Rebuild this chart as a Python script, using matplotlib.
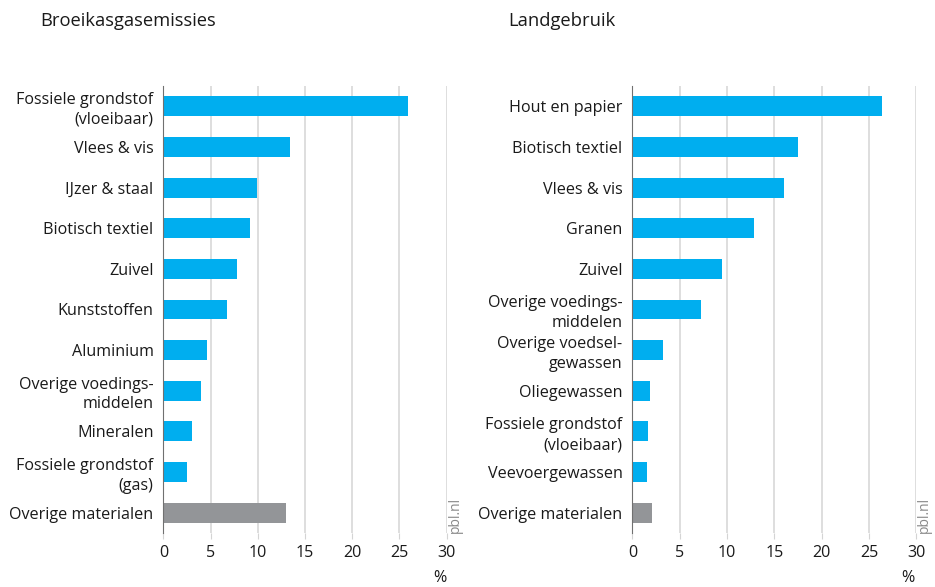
import matplotlib.pyplot as plt

plt.rcParams['font.family'] = ['Open Sans', 'DejaVu Sans']

# Broeikasgasemissies (%)
ghg_labels = ["Fossiele grondstof\n(vloeibaar)", "Vlees & vis", "IJzer & staal",
              "Biotisch textiel", "Zuivel", "Kunststoffen", "Aluminium",
              "Overige voedings-\nmiddelen", "Mineralen", "Fossiele grondstof\n(gas)",
              "Overige materialen"]
ghg_values = [25.9, 13.4, 9.95, 9.2, 7.8, 6.7, 4.6, 4.0, 3.0, 2.55, 13.0]

# Landgebruik (%)
land_labels = ["Hout en papier", "Biotisch textiel", "Vlees & vis", "Granen", "Zuivel",
               "Overige voedings-\nmiddelen", "Overige voedsel-\ngewassen", "Oliegewassen",
               "Fossiele grondstof\n(vloeibaar)", "Veevoergewassen", "Overige materialen"]
land_values = [26.4, 17.5, 16.0, 12.85, 9.5, 7.25, 3.2, 1.9, 1.65, 1.6, 2.1]

blue = "#00aeef"
grey = "#939598"
grid_col = "#d4d4d4"
txt = "#1a1a1a"


def draw_panel(ax, labels, values):
    n = len(values)
    colors = [blue] * (n - 1) + [grey]
    ypos = list(range(n))
    ax.barh(ypos, values, height=0.49, color=colors, zorder=3)
    ax.set_ylim(n - 0.5, -0.5)
    ax.set_xlim(0, 30)
    ax.set_xticks(range(0, 31, 5))
    ax.set_yticks(ypos)
    ax.set_yticklabels(labels, fontsize=11.6, color=txt, linespacing=1.3)
    ax.tick_params(axis='y', length=0, pad=7)
    ax.tick_params(axis='x', length=4, color=grid_col, labelsize=11.6, labelcolor=txt, pad=5)
    ax.xaxis.grid(True, color=grid_col, linewidth=1.1, zorder=0)
    for s in ["top", "right", "bottom"]:
        ax.spines[s].set_visible(False)
    ax.spines["left"].set_color("#707070")
    ax.spines["left"].set_zorder(4)
    ax.text(30.9, n - 0.5, "pbl.nl", rotation=90, ha="center", va="bottom",
            fontsize=10, color="#8a8a8a")


fig = plt.figure(figsize=(9.35, 5.87), dpi=100)
ax1 = fig.add_axes([0.1747, 0.092, 0.303, 0.7615])
ax2 = fig.add_axes([0.6763, 0.092, 0.3037, 0.7615])

draw_panel(ax1, ghg_labels, ghg_values)
draw_panel(ax2, land_labels, land_values)

fig.text(40 / 935, 1 - 21 / 587, "Broeikasgasemissies", fontsize=13.2, color=txt, va="center")
fig.text(508 / 935, 1 - 21 / 587, "Landgebruik", fontsize=13.2, color=txt, va="center")
fig.text(440 / 935, 1 / 587, "%", fontsize=11.6, color=txt, ha="center", va="bottom")
fig.text(908 / 935, 1 / 587, "%", fontsize=11.6, color=txt, ha="center", va="bottom")

fig.savefig("out.png", dpi=100)
